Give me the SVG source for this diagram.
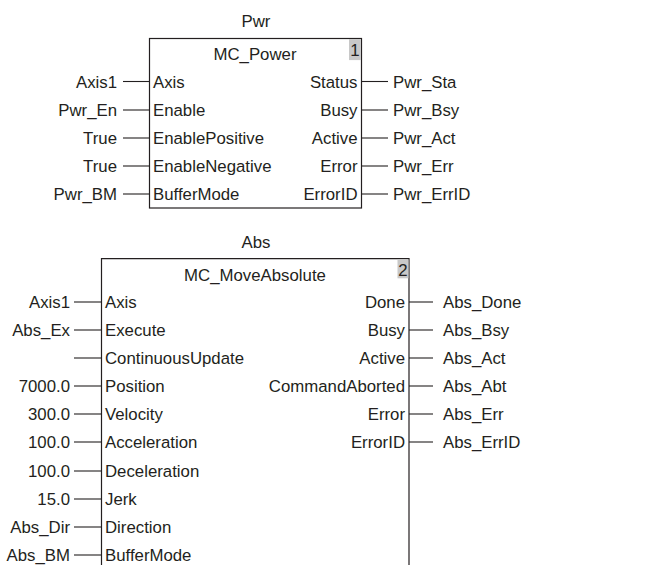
<svg xmlns="http://www.w3.org/2000/svg" width="667" height="565" viewBox="0 0 667 565">
<style>
text{font-family:"Liberation Sans",Arial,sans-serif;font-size:16.8px;fill:#231f20}
.l{text-anchor:end}
.m{text-anchor:middle}
.box{fill:#fff;stroke:#231f20;stroke-width:1.2}
.num{fill:#c8c8c8}
#connectors line{stroke:#231f20;stroke-width:1.1}
</style>
<g id="pwr">
<text class="m" x="256" y="27">Pwr</text>
<rect class="box" x="149.5" y="38.5" width="212" height="169.5"/>
<rect class="num" x="349" y="39.1" width="11.9" height="21"/>
<text class="m" x="355" y="56">1</text>
<text class="m" x="255" y="59.5">MC_Power</text>
<text x="153" y="87.5">Axis</text>
<text x="153" y="116">Enable</text>
<text x="153" y="144">EnablePositive</text>
<text x="153" y="172">EnableNegative</text>
<text x="153" y="200">BufferMode</text>
<text class="l" x="357.5" y="87.5">Status</text>
<text class="l" x="357.5" y="116">Busy</text>
<text class="l" x="357.5" y="144">Active</text>
<text class="l" x="357.5" y="172">Error</text>
<text class="l" x="357.5" y="200">ErrorID</text>
<text class="l" x="117" y="87.5">Axis1</text>
<text class="l" x="117" y="116">Pwr_En</text>
<text class="l" x="117" y="144">True</text>
<text class="l" x="117" y="172">True</text>
<text class="l" x="117" y="200">Pwr_BM</text>
<text x="393" y="87.5">Pwr_Sta</text>
<text x="393" y="116">Pwr_Bsy</text>
<text x="393" y="144">Pwr_Act</text>
<text x="393" y="172">Pwr_Err</text>
<text x="393" y="200">Pwr_ErrID</text>
</g>
<g id="abs">
<text class="m" x="256" y="248">Abs</text>
<path class="box" d="M101.5,566 V258.7 H409 V566"/>
<rect class="num" x="397.5" y="259.3" width="10.9" height="19"/>
<text class="m" x="403" y="275.5">2</text>
<text class="m" x="255" y="280.5">MC_MoveAbsolute</text>
<text x="105" y="308">Axis</text>
<text x="105" y="336">Execute</text>
<text x="105" y="364">ContinuousUpdate</text>
<text x="105" y="392">Position</text>
<text x="105" y="420">Velocity</text>
<text x="105" y="448">Acceleration</text>
<text x="105" y="477">Deceleration</text>
<text x="105" y="505">Jerk</text>
<text x="105" y="533">Direction</text>
<text x="105" y="561">BufferMode</text>
<text class="l" x="405" y="308">Done</text>
<text class="l" x="405" y="336">Busy</text>
<text class="l" x="405" y="364">Active</text>
<text class="l" x="405" y="392">CommandAborted</text>
<text class="l" x="405" y="420">Error</text>
<text class="l" x="405" y="448">ErrorID</text>
<text class="l" x="70" y="308">Axis1</text>
<text class="l" x="70" y="336">Abs_Ex</text>
<text class="l" x="70" y="392">7000.0</text>
<text class="l" x="70" y="420">300.0</text>
<text class="l" x="70" y="448">100.0</text>
<text class="l" x="70" y="477">100.0</text>
<text class="l" x="70" y="505">15.0</text>
<text class="l" x="70" y="533">Abs_Dir</text>
<text class="l" x="70" y="561">Abs_BM</text>
<text x="443" y="308">Abs_Done</text>
<text x="443" y="336">Abs_Bsy</text>
<text x="443" y="364">Abs_Act</text>
<text x="443" y="392">Abs_Abt</text>
<text x="443" y="420">Abs_Err</text>
<text x="443" y="448">Abs_ErrID</text>
</g>
<g id="connectors">
<line x1="123" y1="81.5" x2="149.5" y2="81.5"/>
<line x1="123" y1="110" x2="149.5" y2="110"/>
<line x1="123" y1="138" x2="149.5" y2="138"/>
<line x1="123" y1="166" x2="149.5" y2="166"/>
<line x1="123" y1="194" x2="149.5" y2="194"/>
<line x1="361.5" y1="81.5" x2="388" y2="81.5"/>
<line x1="361.5" y1="110" x2="388" y2="110"/>
<line x1="361.5" y1="138" x2="388" y2="138"/>
<line x1="361.5" y1="166" x2="388" y2="166"/>
<line x1="361.5" y1="194" x2="388" y2="194"/>
<line x1="74" y1="302" x2="101.5" y2="302"/>
<line x1="74" y1="330" x2="101.5" y2="330"/>
<line x1="74" y1="358" x2="101.5" y2="358"/>
<line x1="74" y1="386" x2="101.5" y2="386"/>
<line x1="74" y1="414" x2="101.5" y2="414"/>
<line x1="74" y1="442" x2="101.5" y2="442"/>
<line x1="74" y1="471" x2="101.5" y2="471"/>
<line x1="74" y1="499" x2="101.5" y2="499"/>
<line x1="74" y1="527" x2="101.5" y2="527"/>
<line x1="74" y1="555" x2="101.5" y2="555"/>
<line x1="409" y1="302" x2="433" y2="302"/>
<line x1="409" y1="330" x2="433" y2="330"/>
<line x1="409" y1="358" x2="433" y2="358"/>
<line x1="409" y1="386" x2="433" y2="386"/>
<line x1="409" y1="414" x2="433" y2="414"/>
<line x1="409" y1="442" x2="433" y2="442"/>
</g>
</svg>
